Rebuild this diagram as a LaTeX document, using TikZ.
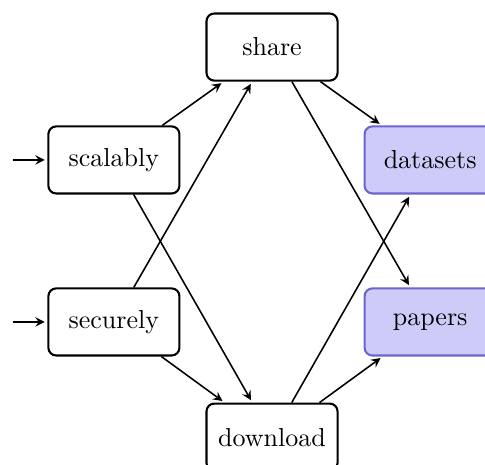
\documentclass[tikz,border=0pt]{standalone}
\usepackage{tikz}
\usetikzlibrary{arrows,shapes,calc,positioning}
\definecolor{lavfill}{RGB}{205,203,248}
\definecolor{lavdraw}{RGB}{110,100,205}

\begin{document}
\begin{tikzpicture}[shorten >=1pt, auto, x=1pt, y=1pt, >=stealth]
   \useasboundingbox (0,0) rectangle (186.5,-178.5);
   \begin{scope}[every node/.style={rectangle,rounded corners=3pt,draw=black,thick,minimum width=50.4pt,minimum height=25.8pt}]
    \node (share) at (104.6,-18.1) {share};
    \node (scal) at (43.8,-61.5) {scalably};
    \node (secu) at (43.8,-123.8) {securely};
    \node (down) at (104.6,-168.1) {download};
    \node (data) [fill=lavfill,draw=lavdraw] at (165.4,-61.5) {datasets};
    \node (pap) [fill=lavfill,draw=lavdraw] at (165.4,-123.8) {papers};
   \end{scope}
   \coordinate (in1) at (5,-61.5);
   \coordinate (in2) at (5,-123.8);
   \begin{scope}[->,semithick]
    \draw  (in1) -- (scal);
    \draw  (in2) -- (secu);
    \draw  (scal) -- (share);
    \draw  (scal) -- (down);
    \draw  (secu) -- (share);
    \draw  (secu) -- (down);
    \draw  (share) -- (data);
    \draw  (share) -- (pap);
    \draw  (down) -- (data);
    \draw  (down) -- (pap);
   \end{scope}
\end{tikzpicture}
\end{document}
